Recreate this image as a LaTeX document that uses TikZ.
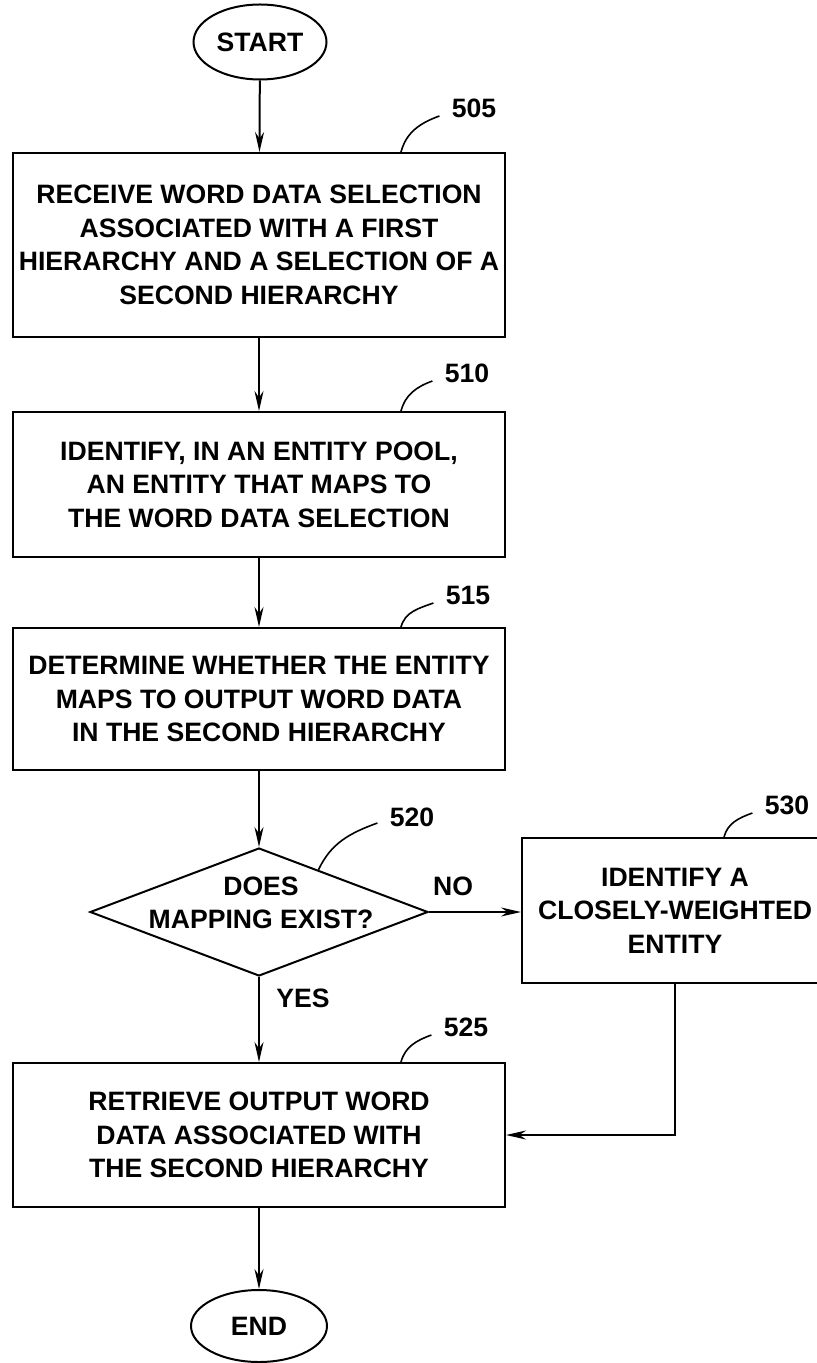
\documentclass[tikz,border=0pt]{standalone}
\usepackage{fontspec}
\setmainfont{Liberation Sans}
\usetikzlibrary{shapes.geometric,arrows.meta,calc,positioning}

\begin{document}
\begin{tikzpicture}[x=0.5pt, y=-0.5pt,
    every node/.style={font=\bfseries\fontsize{13.3}{16.8}\selectfont, align=center},
    stepbox/.style={draw, line width=1pt, rectangle, minimum width=246pt, inner sep=0pt},
    terminal/.style={draw, line width=1pt, ellipse, minimum width=66.5pt, minimum height=37.5pt, inner sep=0pt},
    decision/.style={draw, line width=1pt, diamond, minimum width=169pt, minimum height=64pt, inner sep=0pt},
    refnum/.style={inner sep=0pt},
    flow/.style={line width=1pt, -{Stealth[length=10pt, width=4.5pt]}},
    leader/.style={line width=0.8pt}]
        \useasboundingbox (0,0) rectangle (817,1363);
        \clip (0,0) rectangle (817,1363);

        % Start and end terminals
        \node [terminal] (start) at (260,42) {START};
        \node [terminal, minimum width=68pt, minimum height=36pt] (end) at (259,1326) {END};

        % Process steps
        \node [stepbox, minimum height=92pt] (b505) at (259,245) {RECEIVE WORD DATA SELECTION\\ASSOCIATED WITH A FIRST\\HIERARCHY AND A SELECTION OF A\\SECOND HIERARCHY};
        \node [stepbox, minimum height=72.5pt] (b510) at (259,484.5) {IDENTIFY, IN AN ENTITY POOL,\\AN ENTITY THAT MAPS TO\\THE WORD DATA SELECTION};
        \node [stepbox, minimum height=71pt] (b515) at (259,699) {DETERMINE WHETHER THE ENTITY\\MAPS TO OUTPUT WORD DATA\\IN THE SECOND HIERARCHY};
        \node [stepbox, minimum height=72pt] (b525) at (259,1135) {RETRIEVE OUTPUT WORD\\DATA ASSOCIATED WITH\\THE SECOND HIERARCHY};
        \node [stepbox, minimum width=153pt, minimum height=72.5pt] (b530) at (675,910.5) {IDENTIFY A\\CLOSELY-WEIGHTED\\ENTITY};

        % Decision (text set apart, it runs close to the edges)
        \node [decision] (d520) at (259,912) {};
        \node (q520) at (261,903) {DOES\\MAPPING EXIST?};
        \node (no) at (453,886) {NO};
        \node (yes) at (303,998) {YES};

        % Reference numerals
        \node [refnum] (l505) at (474,108) {505};
        \node [refnum] (l510) at (467,373) {510};
        \node [refnum] (l515) at (468,595) {515};
        \node [refnum] (l520) at (412,817) {520};
        \node [refnum] (l525) at (466,1027) {525};
        \node [refnum] (l530) at (787,805) {530};

        \foreach \n in {505,510,515,525,530} {
            \draw [leader] ([xshift=-52.5pt]b\n.north east) to[out=75, in=200] ([xshift=-6pt, yshift=-4pt]l\n.west);
        }
        \draw [leader] ($(d520.north)!0.35!(d520.east)$) to[out=65, in=200] ([xshift=-6pt, yshift=-3pt]l520.west);

        % Flow
        \foreach \a/\b in {start/b505, b505/b510, b510/b515, b515/d520, d520/b525, b525/end} {
            \draw [flow] (\a) -- (\b);
        }
        \draw [flow] (d520.east) -- (d520.east -| b530.west);
        \draw [flow] (b530.south) |- (b525.east);
    \end{tikzpicture}
\end{document}
